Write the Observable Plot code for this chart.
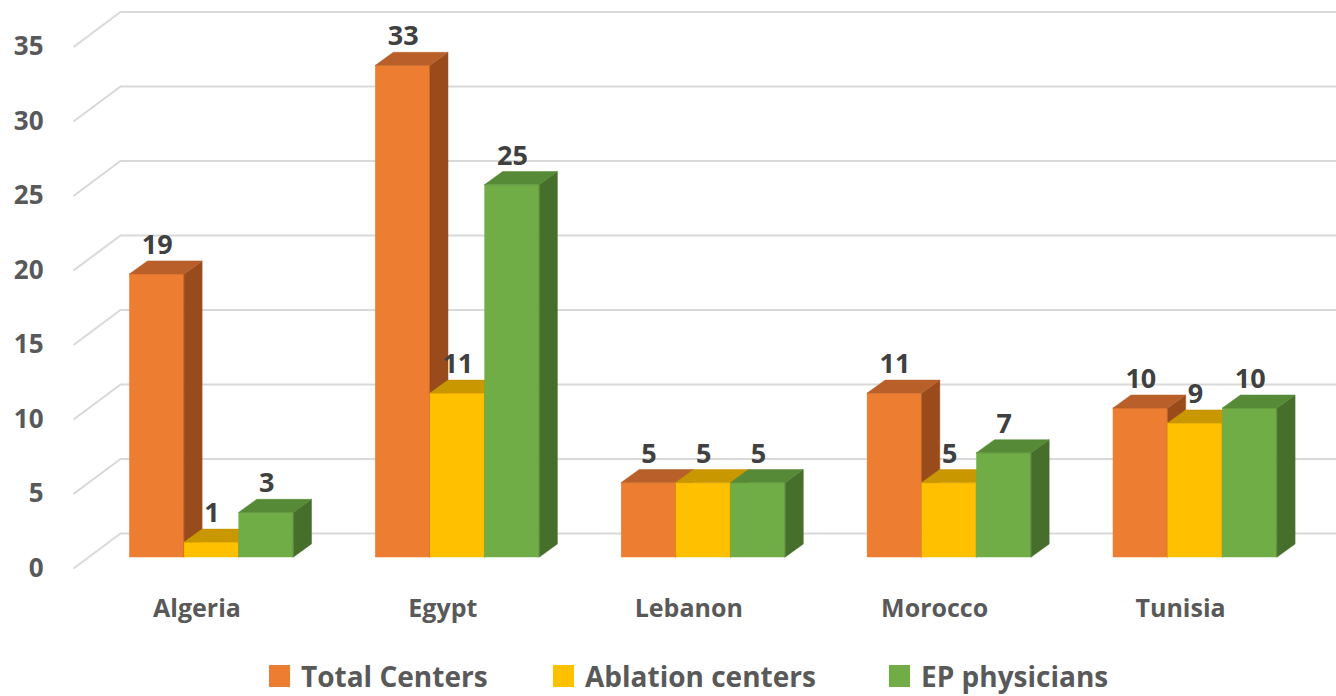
<!DOCTYPE html>
<html><head><meta charset="utf-8">
<script src="https://cdn.jsdelivr.net/npm/d3@7"></script>
<script src="https://cdn.jsdelivr.net/npm/@observablehq/plot@0.6"></script>
<style>
body{margin:0;background:#fff;font-family:"Open Sans",sans-serif;width:1336px;height:696px;overflow:hidden;position:relative}
#legend{position:absolute;top:0;left:0;width:1336px;height:696px;pointer-events:none}
.item{position:absolute;top:657px;height:38px;display:flex;align-items:center;font-weight:700;font-size:28px;color:#595959;line-height:38px;white-space:nowrap}
.sw{width:21px;height:22px;margin-right:11px}
</style></head><body>
<div id="chart"></div><div id="legend"></div>
<script>
// ---- data ----
const countries = ["Algeria", "Egypt", "Lebanon", "Morocco", "Tunisia"];
const seriesNames = ["Total Centers", "Ablation centers", "EP physicians"];
const totalCenters = [19, 33, 5, 11, 10];
const ablationCenters = [1, 11, 5, 5, 9];
const epPhysicians = [3, 25, 5, 7, 10];
const yTicks = [0, 5, 10, 15, 20, 25, 30, 35];

// ---- style ----
const frontColors = ["#ED7D31", "#FFC000", "#70AD47"];
const topColors = ["#B9602A", "#C99700", "#568A36"];
const sideColors = ["#9A4B1C", "#A07800", "#466F2C"];
const seriesValues = [totalCenters, ablationCenters, epPhysicians];

const W = 1336, H = 650;
const bw = 0.2224;      // bar width in category units
const ddx = 0.0732;     // depth offset (x units)
const ddy = 0.8725;     // depth offset (y units)
const backDy = 1.61, frontDy = 0.738;
const backX = -0.372, frontX = -0.563, rightX = 4.6;

const rows = [];
seriesValues.forEach((vals, j) => {
  vals.forEach((v, i) => {
    const x1 = i + (j - 1.5) * bw;
    rows.push({country: countries[i], series: seriesNames[j], i, j, value: v, x1, x2: x1 + bw, key: j + "-" + i});
  });
});

const marks = [
  Plot.ruleY(yTicks, {y: d => d + backDy, x1: backX, x2: rightX, stroke: "#D9D9D9", strokeWidth: 2}),
  Plot.link(yTicks, {x1: frontX, y1: d => d - frontDy, x2: backX, y2: d => d + backDy, stroke: "#D9D9D9", strokeWidth: 2}),
  Plot.text(yTicks, {x: frontX, y: d => d - frontDy, text: d => String(d), textAnchor: "end", dx: -30, fill: "#595959", fontSize: 26, fontWeight: 700}),
  Plot.text(countries, {x: (d, i) => i, y: 0, text: d => d, dx: -15, dy: 51, fill: "#595959", fontSize: 25, fontWeight: 700})
];

for (let j = 0; j < 3; j++) {
  const rs = rows.filter(r => r.j === j);
  const side = rs.flatMap(r => [
    {key: r.key, x: r.x2, y1: 0, y2: r.value},
    {key: r.key, x: r.x2 + ddx, y1: ddy, y2: r.value + ddy}
  ]);
  const top = rs.flatMap(r => [
    {key: r.key, y: r.value, x1: r.x1, x2: r.x2},
    {key: r.key, y: r.value + ddy, x1: r.x1 + ddx, x2: r.x2 + ddx}
  ]);
  marks.push(
    Plot.rectY(rs, {x1: "x1", x2: "x2", y1: 0, y2: "value", fill: frontColors[j], stroke: frontColors[j], strokeWidth: 0.5}),
    Plot.areaY(side, {x: "x", y1: "y1", y2: "y2", z: "key", fill: sideColors[j], stroke: sideColors[j], strokeWidth: 0.5}),
    Plot.areaX(top, {y: "y", x1: "x1", x2: "x2", z: "key", fill: topColors[j], stroke: topColors[j], strokeWidth: 0.5})
  );
}

marks.push(
  Plot.text(rows, {x: r => r.x1 + bw / 2, y: "value", text: r => String(r.value), dy: -29, fill: "#404040", fontSize: 27, fontWeight: 700})
);

const chart = Plot.plot({
  width: W, height: H,
  marginLeft: 88.5, marginRight: 18, marginTop: 35.5, marginBottom: 93,
  x: {type: "linear", domain: [-0.5, 4.5], axis: null},
  y: {type: "linear", domain: [0, 35], axis: null},
  style: {fontFamily: "'Open Sans', sans-serif", background: "#fff", overflow: "visible"},
  marks
});
document.getElementById("chart").appendChild(chart);

// legend
const legendLeft = [269, 553, 889];
const lg = document.getElementById("legend");
seriesNames.forEach((name, j) => {
  const it = document.createElement("div");
  it.className = "item";
  it.style.left = legendLeft[j] + "px";
  it.innerHTML = `<span class="sw" style="background:${frontColors[j]}"></span><span>${name}</span>`;
  lg.appendChild(it);
});
</script>
</body></html>
